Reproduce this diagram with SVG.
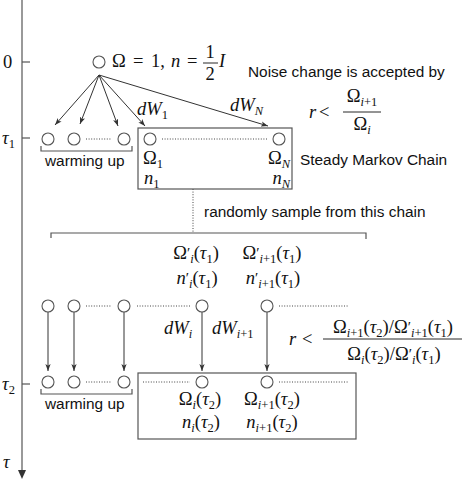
<svg xmlns="http://www.w3.org/2000/svg" width="463" height="481" viewBox="0 0 463 481">
<style>
.ln{stroke:#555;stroke-width:1.2;fill:none}
.ar{stroke:#333;stroke-width:1;fill:none}
.dt{stroke:#444;stroke-width:1;stroke-dasharray:1 1.6;fill:none}
.c{fill:#fff;stroke:#555;stroke-width:1.1}
.t{font-family:"Liberation Sans","DejaVu Sans",sans-serif;font-size:15.4px;fill:#111}
.m{font-family:"Liberation Serif","DejaVu Serif",serif;font-size:18.5px;fill:#111}
.i{font-style:italic}
.sb{font-size:12.5px}
.p{font-size:15px}
.mid{text-anchor:middle}
</style>
<defs>
<marker id="ah" viewBox="0 0 8 6" refX="8" refY="3" markerWidth="7" markerHeight="5.5" markerUnits="userSpaceOnUse" orient="auto"><path d="M0,0 L8,3 L0,6 L2,3 z" fill="#333"/></marker>
</defs>
<rect width="463" height="481" fill="#fff"/>

<g id="axis">
<line class="ln" x1="22" y1="0" x2="22" y2="472"/>
<path d="M18,470 L22,479 L26,470 z" fill="#333"/>
<line class="ln" x1="22" y1="62" x2="30" y2="62"/>
<line class="ln" x1="22" y1="138" x2="30" y2="138"/>
<line class="ln" x1="22" y1="384" x2="30" y2="384"/>
<text class="m" x="3" y="68">0</text>
<text class="m" x="2" y="144"><tspan class="i">τ</tspan><tspan class="sb" dy="4">1</tspan></text>
<text class="m" x="2" y="390"><tspan class="i">τ</tspan><tspan class="sb" dy="4">2</tspan></text>
<text class="m i" x="3" y="468">τ</text>
</g>

<g id="connectors">
<line class="ar" x1="99" y1="75" x2="55" y2="125" marker-end="url(#ah)"/>
<line class="ar" x1="99" y1="75" x2="80" y2="124" marker-end="url(#ah)"/>
<line class="ar" x1="99" y1="75" x2="118" y2="126" marker-end="url(#ah)"/>
<line class="ar" x1="99" y1="75" x2="145" y2="126" marker-end="url(#ah)"/>
<line class="ar" x1="99" y1="75" x2="268" y2="126" marker-end="url(#ah)"/>
<line class="dt" x1="193" y1="189" x2="193" y2="233"/>
<line class="ar" x1="48" y1="312" x2="48" y2="371" marker-end="url(#ah)"/>
<line class="ar" x1="74" y1="312" x2="74" y2="371" marker-end="url(#ah)"/>
<line class="ar" x1="124" y1="312" x2="124" y2="371" marker-end="url(#ah)"/>
<line class="ar" x1="202" y1="312" x2="202" y2="371" marker-end="url(#ah)"/>
<line class="ar" x1="267" y1="312" x2="267" y2="371" marker-end="url(#ah)"/>
<text class="m i" x="137" y="115">dW<tspan class="sb" font-style="normal" dy="4">1</tspan></text>
<text class="m i" x="230" y="111">dW<tspan class="sb" dy="4">N</tspan></text>
<text class="m i" x="164" y="334">dW<tspan class="sb" dy="4">i</tspan></text>
<text class="m i" x="212" y="334">dW<tspan class="sb" dy="4">i</tspan><tspan class="sb" font-style="normal">+1</tspan></text>
</g>

<g id="start">
<circle class="c" cx="99" cy="62" r="6"/>
<text class="m" y="67"><tspan x="112">Ω</tspan><tspan x="133">=</tspan><tspan x="151">1,</tspan><tspan x="171" class="i">n</tspan><tspan x="187">=</tspan></text>
<text class="m" x="210" y="58" font-size="15.5" text-anchor="middle">1</text>
<line x1="203" y1="63" x2="218" y2="63" stroke="#111" stroke-width="0.9"/>
<text class="m" x="210" y="80" font-size="15.5" text-anchor="middle">2</text>
<text class="m i" x="219" y="67">I</text>
</g>

<g id="warmup1">
<circle class="c" cx="48" cy="139" r="6"/>
<circle class="c" cx="74" cy="139" r="6"/>
<circle class="c" cx="124" cy="139" r="6"/>
<line class="dt" x1="86" y1="139" x2="112" y2="139"/>
<path class="ln" d="M41,146 V151 H132 V146"/>
<text class="t" x="45" y="166">warming up</text>
</g>

<g id="chain1">
<rect class="ln" x="138" y="128" width="154" height="61"/>
<circle class="c" cx="150" cy="139" r="6"/>
<circle class="c" cx="279" cy="139" r="6"/>
<line class="dt" x1="162" y1="139" x2="267" y2="139"/>
<text class="m" x="143" y="164">Ω<tspan class="sb" dy="4">1</tspan></text>
<text class="m i" x="144" y="184">n<tspan class="sb" font-style="normal" dy="4">1</tspan></text>
<text class="m" x="290" y="164" text-anchor="end">Ω<tspan class="sb i" dy="4">N</tspan></text>
<text class="m i" x="290" y="184" text-anchor="end">n<tspan class="sb" dy="4">N</tspan></text>
<text class="t" x="300" y="165">Steady Markov Chain</text>
</g>

<g id="rule1">
<text class="t" x="248" y="77">Noise change is accepted by</text>
<text class="m" y="118"><tspan x="309" class="i">r</tspan><tspan x="319">&lt;</tspan></text>
<text class="m mid" x="362" y="102">Ω<tspan class="sb i" dy="4">i</tspan><tspan class="sb">+1</tspan></text>
<line x1="343" y1="112" x2="381" y2="112" stroke="#111" stroke-width="0.9"/>
<text class="m mid" x="362" y="130">Ω<tspan class="sb i" dy="4">i</tspan></text>
</g>

<g id="sample">
<text class="t" x="204" y="217">randomly sample from this chain</text>
<path class="ln" d="M51,238 V233 H366 V239"/>
<text class="m mid" x="196" y="259">Ω<tspan class="p" dy="-1">′</tspan><tspan class="sb i" dy="5">i</tspan><tspan dy="-4">(</tspan><tspan class="i">τ</tspan><tspan class="sb" dy="4">1</tspan><tspan dy="-4">)</tspan></text>
<text class="m mid" x="272" y="259">Ω<tspan class="p" dy="-1">′</tspan><tspan class="sb i" dy="5">i</tspan><tspan class="sb">+1</tspan><tspan dy="-4">(</tspan><tspan class="i">τ</tspan><tspan class="sb" dy="4">1</tspan><tspan dy="-4">)</tspan></text>
<text class="m mid" x="197" y="284"><tspan class="i">n</tspan><tspan class="p" dy="-1">′</tspan><tspan class="sb i" dy="5">i</tspan><tspan dy="-4">(</tspan><tspan class="i">τ</tspan><tspan class="sb" dy="4">1</tspan><tspan dy="-4">)</tspan></text>
<text class="m mid" x="273" y="284"><tspan class="i">n</tspan><tspan class="p" dy="-1">′</tspan><tspan class="sb i" dy="5">i</tspan><tspan class="sb">+1</tspan><tspan dy="-4">(</tspan><tspan class="i">τ</tspan><tspan class="sb" dy="4">1</tspan><tspan dy="-4">)</tspan></text>
</g>

<g id="row2">
<circle class="c" cx="48" cy="306" r="6"/>
<circle class="c" cx="74" cy="306" r="6"/>
<circle class="c" cx="124" cy="306" r="6"/>
<circle class="c" cx="202" cy="306" r="6"/>
<circle class="c" cx="267" cy="306" r="6"/>
<line class="dt" x1="86" y1="306" x2="112" y2="306"/>
<line class="dt" x1="137" y1="306" x2="190" y2="306"/>
<line class="dt" x1="279" y1="306" x2="349" y2="306"/>
</g>

<g id="rule2">
<text class="m" y="345"><tspan x="289" class="i">r</tspan><tspan x="302">&lt;</tspan></text>
<text class="m mid" x="393" y="333">Ω<tspan class="sb i" dy="4">i</tspan><tspan class="sb">+1</tspan><tspan dy="-4">(</tspan><tspan class="i">τ</tspan><tspan class="sb" dy="4">2</tspan><tspan dy="-4">)/Ω</tspan><tspan class="p" dy="-1">′</tspan><tspan class="sb i" dy="5">i</tspan><tspan class="sb">+1</tspan><tspan dy="-4">(</tspan><tspan class="i">τ</tspan><tspan class="sb" dy="4">1</tspan><tspan dy="-4">)</tspan></text>
<line x1="323" y1="339" x2="462" y2="339" stroke="#111" stroke-width="0.9"/>
<text class="m mid" x="394" y="360">Ω<tspan class="sb i" dy="4">i</tspan><tspan dy="-4">(</tspan><tspan class="i">τ</tspan><tspan class="sb" dy="4">2</tspan><tspan dy="-4">)/Ω</tspan><tspan class="p" dy="-1">′</tspan><tspan class="sb i" dy="5">i</tspan><tspan dy="-4">(</tspan><tspan class="i">τ</tspan><tspan class="sb" dy="4">1</tspan><tspan dy="-4">)</tspan></text>
</g>

<g id="warmup2">
<circle class="c" cx="48" cy="382" r="6"/>
<circle class="c" cx="74" cy="382" r="6"/>
<circle class="c" cx="124" cy="382" r="6"/>
<line class="dt" x1="86" y1="382" x2="112" y2="382"/>
<path class="ln" d="M41,389 V394 H132 V389"/>
<text class="t" x="45" y="409">warming up</text>
</g>

<g id="chain2">
<rect class="ln" x="138" y="373" width="218" height="66"/>
<circle class="c" cx="202" cy="382" r="6"/>
<circle class="c" cx="267" cy="382" r="6"/>
<line class="dt" x1="143" y1="382" x2="190" y2="382"/>
<line class="dt" x1="279" y1="382" x2="349" y2="382"/>
<text class="m mid" x="200" y="405">Ω<tspan class="sb i" dy="4">i</tspan><tspan dy="-4">(</tspan><tspan class="i">τ</tspan><tspan class="sb" dy="4">2</tspan><tspan dy="-4">)</tspan></text>
<text class="m mid" x="201" y="428"><tspan class="i">n</tspan><tspan class="sb i" dy="4">i</tspan><tspan dy="-4">(</tspan><tspan class="i">τ</tspan><tspan class="sb" dy="4">2</tspan><tspan dy="-4">)</tspan></text>
<text class="m mid" x="272" y="405">Ω<tspan class="sb i" dy="4">i</tspan><tspan class="sb">+1</tspan><tspan dy="-4">(</tspan><tspan class="i">τ</tspan><tspan class="sb" dy="4">2</tspan><tspan dy="-4">)</tspan></text>
<text class="m mid" x="272" y="428"><tspan class="i">n</tspan><tspan class="sb i" dy="4">i</tspan><tspan class="sb">+1</tspan><tspan dy="-4">(</tspan><tspan class="i">τ</tspan><tspan class="sb" dy="4">2</tspan><tspan dy="-4">)</tspan></text>
</g>
</svg>
